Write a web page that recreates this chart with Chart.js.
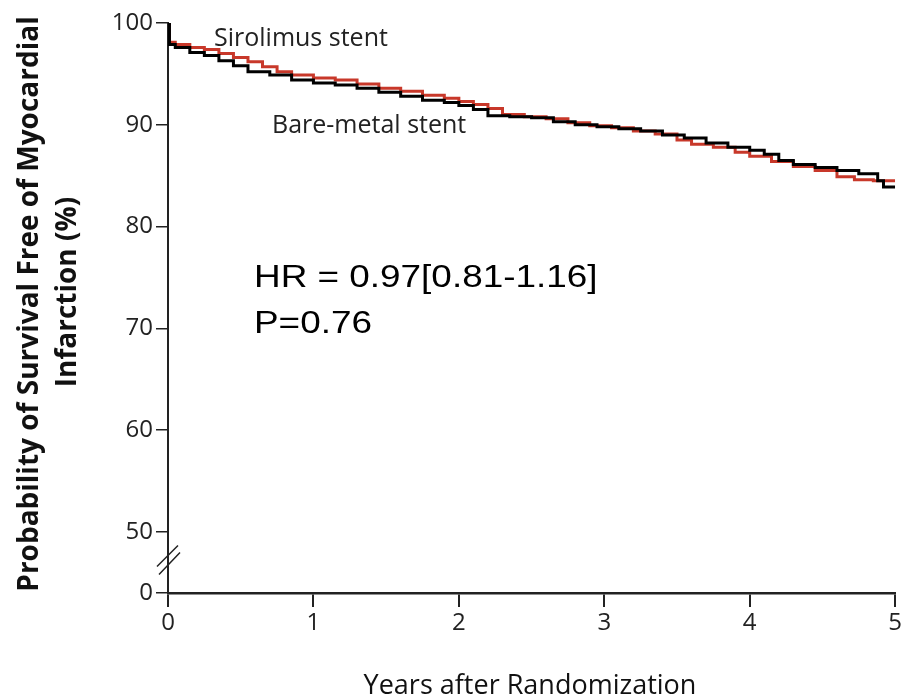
<!DOCTYPE html>
<html lang="en">
<head>
    <meta charset="UTF-8">
    <title>Survival Free of Myocardial Infarction</title>
    <style>
        body {
            margin: 0;
            padding: 0;
            background-color: #ffffff;
        }

        #wrap {
            width: 904px;
            height: 697px;
        }
    </style>
</head>
<body>
    <div id="wrap">
        <canvas id="kmChart" width="904" height="697"></canvas>
    </div>

    <script src="https://cdn.jsdelivr.net/npm/chart.js"></script>
    <script>
        // Kaplan-Meier curves (years, % free of MI)
        const sirolimusYears = [0, 0.01, 0.05, 0.15, 0.25, 0.35, 0.45, 0.55, 0.65, 0.75, 0.85, 1.0, 1.15, 1.3, 1.45, 1.6, 1.75, 1.9, 2.0, 2.1, 2.2, 2.3, 2.45, 2.6, 2.75, 2.9, 3.05, 3.2, 3.35, 3.5, 3.6, 3.75, 3.9, 4.0, 4.15, 4.3, 4.45, 4.6, 4.72, 4.85, 5.0];
        const sirolimusSurvival = [100, 98.1, 97.9, 97.6, 97.4, 97.0, 96.6, 96.2, 95.7, 95.2, 94.9, 94.6, 94.4, 94.0, 93.6, 93.3, 92.9, 92.6, 92.3, 92.0, 91.6, 91.0, 90.8, 90.6, 90.2, 89.9, 89.7, 89.4, 89.1, 88.5, 88.1, 87.8, 87.3, 86.9, 86.4, 85.9, 85.5, 84.9, 84.6, 84.5, 84.5];

        const bareMetalYears = [0, 0.01, 0.05, 0.15, 0.25, 0.35, 0.45, 0.55, 0.7, 0.85, 1.0, 1.15, 1.3, 1.45, 1.6, 1.75, 1.9, 2.0, 2.1, 2.2, 2.35, 2.5, 2.65, 2.8, 2.95, 3.1, 3.25, 3.4, 3.55, 3.7, 3.85, 4.0, 4.1, 4.2, 4.3, 4.45, 4.6, 4.75, 4.88, 4.92, 5.0];
        const bareMetalSurvival = [100, 97.9, 97.6, 97.1, 96.8, 96.3, 95.8, 95.2, 94.9, 94.4, 94.1, 93.9, 93.6, 93.2, 92.8, 92.4, 92.2, 91.9, 91.5, 90.9, 90.8, 90.7, 90.3, 90.0, 89.8, 89.6, 89.4, 89.0, 88.7, 88.2, 87.8, 87.5, 87.1, 86.5, 86.1, 85.8, 85.5, 85.2, 84.5, 83.9, 83.9];

        const xTickValues = [0, 1, 2, 3, 4, 5];
        const yTickValues = [50, 60, 70, 80, 90, 100];
        const yBreakValue = 44;   // where the "0" sits below the axis break
        const yBreakLabel = '0';

        const seriesNames = ['Sirolimus stent', 'Bare-metal stent'];
        const statLines = ['HR = 0.97[0.81-1.16]', 'P=0.76'];
        const yTitleLines = ['Probability of Survival Free of Myocardial', 'Infarction (%)'];
        const xTitle = 'Years after Randomization';

        function toPoints(xs, ys) {
            return xs.map(function(x, i) { return { x: x, y: ys[i] }; });
        }

        const textColor = '#222222';
        const tickFont = { family: 'Open Sans', size: 24 };

        // Titles, curve labels, stats text and the axis break marks
        const annotationPlugin = {
            id: 'annotations',
            afterDraw(chart) {
                const ctx = chart.ctx;
                const xs = chart.scales.x;
                const ys = chart.scales.y;
                ctx.save();
                ctx.fillStyle = textColor;

                // curve labels
                ctx.font = '25px "Open Sans"';
                ctx.textBaseline = 'alphabetic';
                ctx.textAlign = 'left';
                ctx.fillText(seriesNames[0], 214, 46);
                ctx.fillText(seriesNames[1], 272, 133);

                // stats, slightly stretched like the original slide text
                ctx.fillStyle = '#000000';
                ctx.font = '31px "Liberation Sans", Arial, sans-serif';
                ctx.save();
                ctx.translate(254, 287);
                ctx.scale(1.19, 1);
                ctx.fillText(statLines[0], 0, 0);
                ctx.restore();
                ctx.save();
                ctx.translate(254, 333);
                ctx.scale(1.19, 1);
                ctx.fillText(statLines[1], 0, 0);
                ctx.restore();

                // x title
                ctx.fillStyle = '#111111';
                ctx.font = '27px "Open Sans"';
                ctx.textAlign = 'center';
                ctx.fillText(xTitle, 530, 694);

                // y title, rotated
                ctx.font = 'bold 28px "Open Sans"';
                ctx.save();
                ctx.translate(38, 304);
                ctx.rotate(-Math.PI / 2);
                ctx.fillText(yTitleLines[0], 0, 0);
                ctx.restore();
                ctx.save();
                ctx.translate(76, 292);
                ctx.rotate(-Math.PI / 2);
                ctx.fillText(yTitleLines[1], 0, 0);
                ctx.restore();

                // axis break between 50 and 0
                const axisX = xs.left;
                const yMid = (ys.getPixelForValue(50) + ys.getPixelForValue(yBreakValue)) / 2;
                ctx.strokeStyle = '#222222';
                ctx.lineWidth = 1.5;
                ctx.beginPath();
                ctx.moveTo(axisX - 11, yMid + 4);
                ctx.lineTo(axisX + 10, yMid - 17);
                ctx.moveTo(axisX - 9, yMid + 12);
                ctx.lineTo(axisX + 12, yMid - 10);
                ctx.stroke();

                ctx.restore();
            }
        };

        const ctx = document.getElementById('kmChart').getContext('2d');
        const chart = new Chart(ctx, {
            type: 'line',
            data: {
                datasets: [
                    {
                        label: seriesNames[1],
                        data: toPoints(bareMetalYears, bareMetalSurvival),
                        borderColor: '#000000',
                        borderWidth: 3,
                        stepped: true,
                        pointRadius: 0,
                        fill: false
                    },
                    {
                        label: seriesNames[0],
                        data: toPoints(sirolimusYears, sirolimusSurvival),
                        borderColor: '#c8382a',
                        borderWidth: 3,
                        stepped: true,
                        pointRadius: 0,
                        fill: false
                    }
                ]
            },
            options: {
                responsive: false,
                animation: false,
                layout: {
                    padding: { left: 0, right: 7, top: 23, bottom: 0 }
                },
                plugins: {
                    legend: { display: false },
                    tooltip: { enabled: false }
                },
                scales: {
                    x: {
                        type: 'linear',
                        min: 0,
                        max: 5,
                        afterFit: function(scale) { scale.height = 104; },
                        afterBuildTicks: function(scale) {
                            scale.ticks = xTickValues.map(function(v) { return { value: v }; });
                        },
                        grid: {
                            drawOnChartArea: false,
                            drawTicks: true,
                            tickLength: 14,
                            color: '#222222',
                            lineWidth: 2
                        },
                        border: { display: true, color: '#222222', width: 2.5 },
                        ticks: {
                            font: tickFont,
                            color: textColor,
                            padding: 2,
                            maxRotation: 0
                        }
                    },
                    y: {
                        type: 'linear',
                        min: yBreakValue,
                        max: 100,
                        afterFit: function(scale) { scale.width = 168; },
                        afterBuildTicks: function(scale) {
                            scale.ticks = [yBreakValue].concat(yTickValues).map(function(v) { return { value: v }; });
                        },
                        grid: {
                            drawOnChartArea: false,
                            drawTicks: true,
                            tickLength: 12,
                            color: '#222222',
                            lineWidth: 1.5
                        },
                        border: { display: true, color: '#222222', width: 2 },
                        ticks: {
                            font: tickFont,
                            color: textColor,
                            padding: 3,
                            callback: function(value) {
                                return value === yBreakValue ? yBreakLabel : value;
                            }
                        }
                    }
                }
            },
            plugins: [annotationPlugin]
        });
    </script>
</body>
</html>
